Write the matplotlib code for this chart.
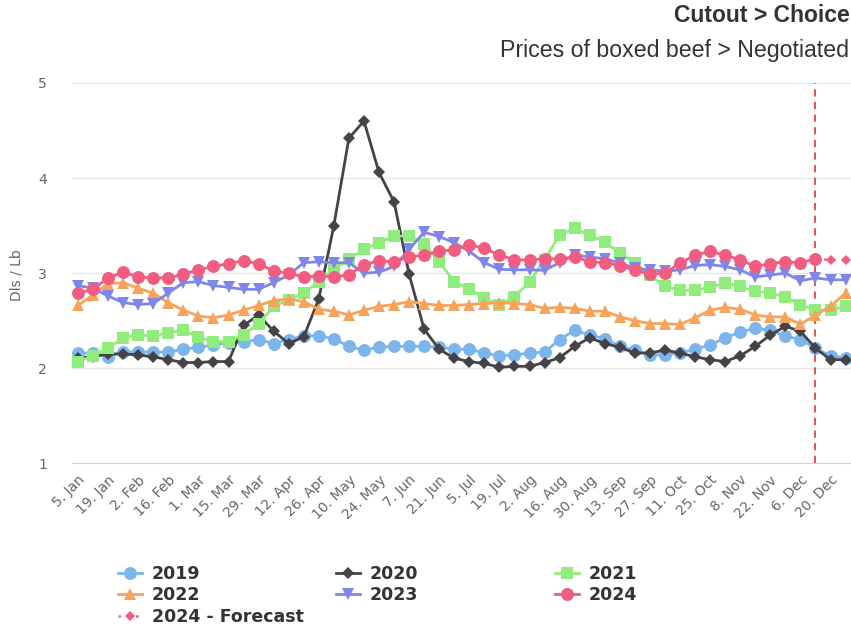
import numpy as np
import matplotlib
matplotlib.use("Agg")
import matplotlib.pyplot as plt

week_labels = ["5. Jan", "19. Jan", "2. Feb", "16. Feb", "1. Mar", "15. Mar", "29. Mar",
               "12. Apr", "26. Apr", "10. May", "24. May", "7. Jun", "21. Jun", "5. Jul",
               "19. Jul", "2. Aug", "16. Aug", "30. Aug", "13. Sep", "27. Sep", "11. Oct",
               "25. Oct", "8. Nov", "22. Nov", "6. Dec", "20. Dec"]

y2019 = [2.16, 2.16, 2.12, 2.17, 2.17, 2.17, 2.17, 2.20, 2.22, 2.245, 2.27, 2.28, 2.30, 2.26,
         2.30, 2.34, 2.34, 2.31, 2.23, 2.19, 2.22, 2.23, 2.23, 2.23, 2.22, 2.20, 2.20, 2.16,
         2.13, 2.14, 2.16, 2.17, 2.30, 2.40, 2.35, 2.31, 2.23, 2.19, 2.14, 2.14, 2.16, 2.20,
         2.245, 2.32, 2.38, 2.42, 2.40, 2.34, 2.30, 2.21, 2.13, 2.11]
y2020 = [2.11, 2.12, 2.15, 2.15, 2.14, 2.12, 2.09, 2.06, 2.06, 2.07, 2.07, 2.45, 2.56, 2.39,
         2.26, 2.33, 2.73, 3.50, 4.42, 4.60, 4.06, 3.75, 2.99, 2.41, 2.20, 2.105, 2.07, 2.05,
         2.01, 2.02, 2.02, 2.06, 2.11, 2.23, 2.32, 2.26, 2.22, 2.16, 2.16, 2.19, 2.16, 2.12,
         2.09, 2.07, 2.13, 2.23, 2.35, 2.44, 2.39, 2.21, 2.09, 2.09]
y2021 = [2.07, 2.13, 2.21, 2.32, 2.35, 2.34, 2.37, 2.40, 2.33, 2.28, 2.28, 2.35, 2.47, 2.65,
         2.72, 2.79, 2.91, 3.04, 3.15, 3.25, 3.32, 3.39, 3.39, 3.31, 3.12, 2.91, 2.83, 2.74,
         2.66, 2.75, 2.91, 3.14, 3.40, 3.47, 3.40, 3.33, 3.21, 3.11, 2.98, 2.86, 2.82, 2.82,
         2.85, 2.90, 2.86, 2.81, 2.79, 2.75, 2.67, 2.61, 2.61, 2.65]
y2022 = [2.66, 2.77, 2.89, 2.90, 2.84, 2.79, 2.69, 2.61, 2.55, 2.53, 2.56, 2.61, 2.66, 2.71,
         2.73, 2.70, 2.62, 2.60, 2.56, 2.61, 2.65, 2.67, 2.70, 2.68, 2.66, 2.66, 2.67, 2.68,
         2.69, 2.68, 2.67, 2.63, 2.64, 2.63, 2.60, 2.60, 2.54, 2.50, 2.47, 2.47, 2.46, 2.53,
         2.61, 2.64, 2.62, 2.56, 2.54, 2.54, 2.46, 2.56, 2.65, 2.79]
y2023 = [2.87, 2.84, 2.76, 2.69, 2.67, 2.68, 2.79, 2.90, 2.91, 2.87, 2.85, 2.83, 2.83, 2.90,
         2.98, 3.11, 3.12, 3.11, 3.11, 3.00, 3.01, 3.07, 3.25, 3.43, 3.385, 3.32, 3.23, 3.11,
         3.04, 3.035, 3.035, 3.03, 3.11, 3.19, 3.17, 3.15, 3.11, 3.05, 3.035, 3.02, 3.035, 3.08,
         3.09, 3.07, 3.035, 2.96, 2.98, 3.00, 2.92, 2.95, 2.93, 2.93]
y2024 = [2.79, 2.83, 2.95, 3.01, 2.96, 2.95, 2.95, 2.99, 3.035, 3.07, 3.10, 3.13, 3.10, 3.02,
         3.00, 2.96, 2.97, 2.96, 2.98, 3.09, 3.13, 3.12, 3.17, 3.19, 3.23, 3.245, 3.30, 3.26,
         3.19, 3.14, 3.14, 3.15, 3.15, 3.17, 3.12, 3.11, 3.08, 3.03, 2.99, 3.00, 3.105, 3.19,
         3.23, 3.19, 3.14, 3.07, 3.10, 3.12, 3.11, 3.15]
forecast_start = 49
y2024_forecast = [3.15, 3.14, 3.14]

W_PX, H_PX = 851, 629
fig = plt.figure(figsize=(W_PX / 100, H_PX / 100), dpi=100)
left_px, right_px, top_px, bot_px = 72, 856, 83, 463.3
ax = fig.add_axes([left_px / W_PX, 1 - bot_px / H_PX,
                   (right_px - left_px) / W_PX, (bot_px - top_px) / H_PX])

series = [
    ("2019", y2019, "#7cb5ec", "o", 9.3),
    ("2020", y2020, "#434348", "D", 6.2),
    ("2021", y2021, "#90ed7d", "s", 8.2),
    ("2022", y2022, "#f7a35c", "^", 9.3),
    ("2023", y2023, "#8085e9", "v", 9.3),
    ("2024", y2024, "#f15c80", "o", 9.3),
]
handles = {}
for i, (name, vals, col, mk, ms) in enumerate(series):
    xs = np.arange(len(vals))
    h, = ax.plot(xs, vals, color=col, lw=2.0, marker=mk, ms=ms, mew=0,
                 label=name, zorder=3 + i, clip_on=False)
    handles[name] = h

fx = np.arange(forecast_start, forecast_start + len(y2024_forecast))
hf, = ax.plot(fx, y2024_forecast, color="#f15c80", lw=1.8, ls=(0, (1, 2.5)),
              marker="D", ms=5.5, mew=0, label="2024 - Forecast", zorder=10, clip_on=False)
handles["2024 - Forecast"] = hf

ax.axvline(forecast_start, color="#e8413f", lw=1.3, ls=(0, (4, 3)), zorder=2)

ax.set_xlim(-6 / 15.05, (right_px - 78) / 15.05)
ax.set_ylim(1, 5)
ax.set_yticks([1, 2, 3, 4, 5])
ax.set_xticks(np.arange(0, 52, 2))
ax.set_xticklabels(week_labels, rotation=45, ha="right", rotation_mode="anchor",
                   fontsize=10, color="#666666")
ax.tick_params(axis="x", length=0, pad=7)
ax.tick_params(axis="y", length=0, pad=18, labelsize=10, labelcolor="#666666")
ax.grid(axis="y", color="#e6e6e6", lw=1)
ax.set_axisbelow(True)
for s in ["top", "right", "left"]:
    ax.spines[s].set_visible(False)
ax.spines["bottom"].set_color("#ccd6eb")
ax.spines["bottom"].set_zorder(1)

fig.text(17 / W_PX, 1 - 275 / H_PX, "Dls / Lb", rotation=90, ha="center", va="center",
         fontsize=10, color="#666666")

fig.text(850 / W_PX, 1 - 16 / H_PX, "Cutout > Choice", ha="right", va="center",
         fontsize=16.5, fontweight="bold", color="#333333", family="Liberation Sans")
fig.text(849 / W_PX, 1 - 50 / H_PX, "Prices of boxed beef > Negotiated", ha="right",
         va="center", fontsize=16.7, color="#333333", family="Liberation Sans")

cols = [(118, ["2019", "2022", "2024 - Forecast"]),
        (336, ["2020", "2023"]),
        (555, ["2021", "2024"])]
for xpx, names in cols:
    lg = fig.legend([handles[n] for n in names], names, loc="upper left",
                    bbox_to_anchor=(xpx / W_PX, 1 - 565 / H_PX), frameon=False,
                    borderpad=0, borderaxespad=0, handlelength=1.4, handletextpad=0.55,
                    labelspacing=0.2,
                    prop={"weight": "bold", "size": 12.5})
    for t in lg.get_texts():
        t.set_color("#333333")

fig.savefig("out.png", dpi=100)
